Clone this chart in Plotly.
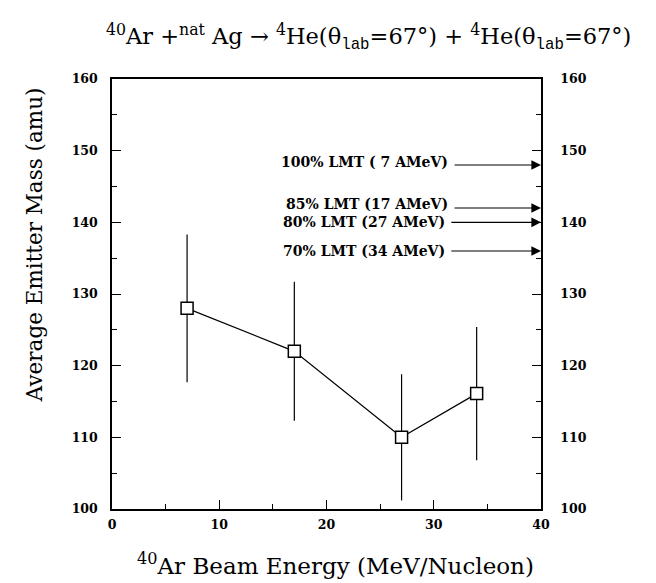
import plotly.graph_objects as go

# Data
beam_energy = [7, 17, 27, 34]
emitter_mass = [128.0, 122.0, 110.0, 116.1]
mass_err = [10.3, 9.7, 8.8, 9.3]

lmt_labels = ["100% LMT ( 7 AMeV)", "85% LMT (17 AMeV)", "80% LMT (27 AMeV)", "70% LMT (34 AMeV)"]
lmt_mass = [148.0, 142.0, 140.0, 136.0]
lmt_arrow_start = [31.8, 31.8, 31.5, 31.5]
label_yshift = [3, 4, 0, 0]

x_ticks = [0, 10, 20, 30, 40]
y_ticks = [100, 110, 120, 130, 140, 150, 160]

SERIF = "DejaVu Serif"

fig = go.Figure()
fig.add_trace(go.Scatter(
    x=beam_energy, y=emitter_mass,
    mode="lines+markers",
    line=dict(color="black", width=1.2),
    marker=dict(symbol="square", size=12, color="white", line=dict(color="black", width=1.5)),
    error_y=dict(type="data", array=mass_err, visible=True, color="black", thickness=1.2, width=0),
    showlegend=False,
))
# invisible trace for right axis
fig.add_trace(go.Scatter(x=[0], y=[100], yaxis="y2", mode="markers",
                         marker=dict(opacity=0), showlegend=False, hoverinfo="skip"))

tickfont = dict(family=SERIF, size=12.5, color="black", weight="bold")
fig.update_layout(
    width=648, height=575,
    margin=dict(l=104, r=115, t=71, b=74),
    plot_bgcolor="white", paper_bgcolor="white",
    xaxis=dict(range=[0, 40], tickvals=x_ticks, ticks="inside", ticklen=9, tickwidth=1.3,
               tickcolor="black", showline=True, linecolor="black", linewidth=1.5, mirror=True,
               showgrid=False, zeroline=False, tickfont=tickfont, ticklabelstandoff=3,
               minor=dict(dtick=5, tick0=0, ticks="inside", ticklen=5, tickcolor="black", tickwidth=1)),
    yaxis=dict(range=[100, 160], tickvals=y_ticks, ticks="inside", ticklen=9, tickwidth=1.3,
               tickcolor="black", showline=True, linecolor="black", linewidth=1.5,
               showgrid=False, zeroline=False, tickfont=tickfont, ticklabelstandoff=10,
               minor=dict(dtick=5, tick0=100, ticks="inside", ticklen=5, tickcolor="black", tickwidth=1)),
    yaxis2=dict(range=[100, 160], tickvals=y_ticks, overlaying="y", side="right", ticks="inside",
                ticklen=9, tickwidth=1.3, tickcolor="black", showline=True, linecolor="black",
                linewidth=1.5, showgrid=False, zeroline=False, tickfont=tickfont, ticklabelstandoff=15,
                minor=dict(dtick=5, tick0=100, ticks="inside", ticklen=5, tickcolor="black", tickwidth=1)),
)

annotations = []
# Title
annotations.append(dict(
    text="<sup>40</sup>Ar +<sup>nat</sup> Ag → <sup>4</sup>He(θ<sub><span style='font-family:Liberation Mono'>lab</span></sub>=67°) + <sup>4</sup>He(θ<sub><span style='font-family:Liberation Mono'>lab</span></sub>=67°)",
    xref="paper", yref="paper", x=0.599, y=1.097, xanchor="center", yanchor="middle",
    showarrow=False, font=dict(family=SERIF, size=22.5, color="black")))
# x-axis title
annotations.append(dict(
    text="<sup>40</sup>Ar Beam Energy (MeV/Nucleon)",
    xref="paper", yref="paper", x=0.522, y=-0.128, xanchor="center", yanchor="middle",
    showarrow=False, font=dict(family=SERIF, size=23, color="black")))
# y-axis title
annotations.append(dict(
    text="Average Emitter Mass (amu)", textangle=-90,
    xref="paper", yref="paper", x=-0.179, y=0.614, xanchor="center", yanchor="middle",
    showarrow=False, font=dict(family=SERIF, size=21.5, color="black")))

for lab, m, xs, ys in zip(lmt_labels, lmt_mass, lmt_arrow_start, label_yshift):
    annotations.append(dict(
        text=lab, x=xs, y=m, xref="x", yref="y", xanchor="right", yanchor="middle",
        xshift=-3, yshift=ys, showarrow=False,
        font=dict(family=SERIF, size=14, color="black", weight="bold")))
    annotations.append(dict(
        text="", x=40, y=m, ax=xs, ay=m, xref="x", yref="y", axref="x", ayref="y",
        showarrow=True, arrowhead=2, arrowsize=1.6, arrowwidth=1.2, arrowcolor="black", standoff=0))

fig.update_layout(annotations=annotations)
fig.write_html("out.html")
